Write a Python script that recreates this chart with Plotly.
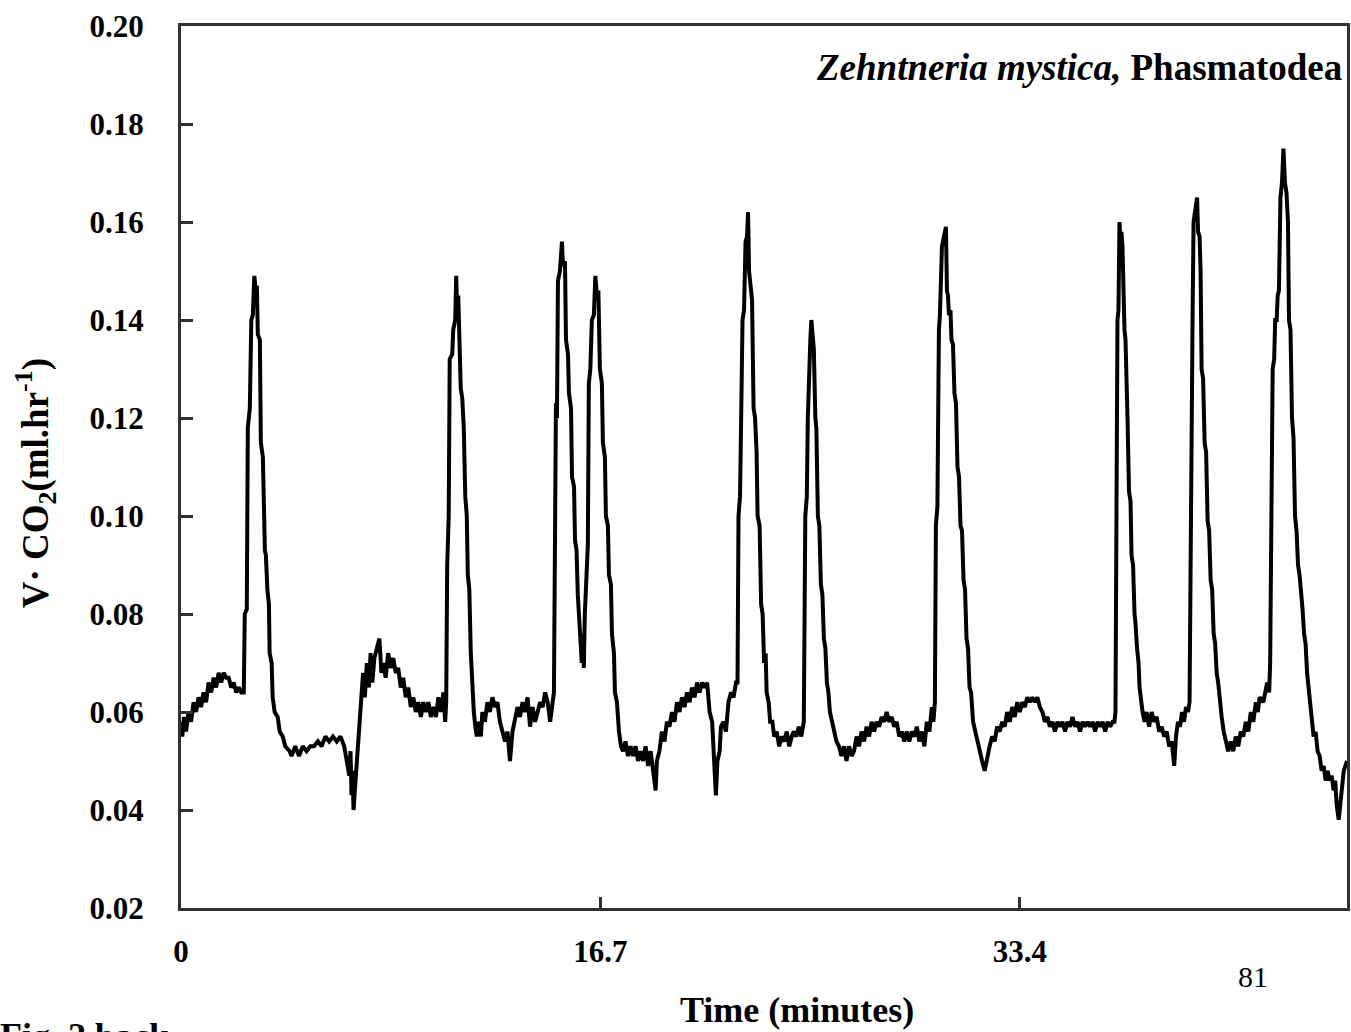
import plotly.graph_objects as go

# Time (minutes) and VCO2 (ml/hr)
time_min = [
    0, 0.05, 0.12, 0.2, 0.3, 0.4, 0.5, 0.6, 0.7, 0.8, 0.9, 1.0, 1.1, 1.2, 1.3, 1.4, 1.5, 1.6, 1.7, 1.8, 1.9, 2.0, 2.1, 2.2, 2.3, 2.4, 2.5,
    2.54, 2.62, 2.66, 2.74, 2.80, 2.86, 2.92, 2.98, 3.02, 3.06, 3.14, 3.18, 3.26, 3.34, 3.38, 3.44, 3.50, 3.53, 3.61, 3.65, 3.73, 3.85, 3.93, 4.05, 4.15, 4.33,
    4.4, 4.55, 4.7, 4.85, 5.0, 5.15, 5.3, 5.45, 5.6, 5.75, 5.9, 6.05, 6.2, 6.35, 6.5, 6.6, 6.7, 6.75, 6.79, 6.83, 6.87, 6.95, 7.03, 7.1,
    7.19, 7.25, 7.32, 7.4, 7.48, 7.55, 7.62, 7.7, 7.8, 7.9, 7.98, 8.06, 8.15, 8.25, 8.35, 8.45, 8.55, 8.65, 8.75, 8.85, 8.95, 9.05, 9.15, 9.25, 9.35, 9.45, 9.55, 9.65, 9.75, 9.85, 9.95, 10.05, 10.15, 10.25, 10.35, 10.45, 10.52,
    10.56, 10.60, 10.66, 10.70, 10.80, 10.84, 10.92, 10.96, 11.00, 11.04, 11.10, 11.14, 11.20, 11.26, 11.32, 11.38, 11.42, 11.48, 11.54, 11.60, 11.66, 11.72, 11.78, 11.86, 11.94,
    12.0, 12.1, 12.2, 12.3, 12.4, 12.5, 12.6, 12.7, 12.8, 12.9, 13.0, 13.1, 13.2, 13.3, 13.4, 13.5, 13.6, 13.7, 13.8, 13.9, 14.0, 14.1, 14.2, 14.3, 14.4, 14.5, 14.6, 14.7,
    14.85, 14.89, 14.93, 14.97, 15.01, 15.09, 15.17, 15.21, 15.29, 15.33, 15.41, 15.45, 15.53, 15.57, 15.65, 15.69, 15.75, 15.80, 15.85, 15.90, 15.96, 16.00, 16.04, 16.08, 16.14, 16.20, 16.24, 16.30, 16.36, 16.44, 16.50, 16.56, 16.62, 16.68, 16.76, 16.80, 16.88, 16.92, 17.00, 17.04, 17.12, 17.16, 17.24, 17.28, 17.36, 17.44, 17.52,
    17.6, 17.7, 17.8, 17.9, 18.0, 18.1, 18.2, 18.3, 18.4, 18.5, 18.6, 18.7, 18.8, 18.9, 18.95, 19.05, 19.15, 19.25, 19.35, 19.45, 19.55, 19.65, 19.75, 19.85, 19.95, 20.05, 20.15, 20.25, 20.35, 20.45, 20.55, 20.65, 20.75, 20.85, 20.95, 21.0, 21.05, 21.15, 21.2, 21.26, 21.30, 21.36, 21.45, 21.5, 21.6, 21.7, 21.8, 21.9, 22.0, 22.1,
    22.16, 22.20, 22.26, 22.30, 22.36, 22.42, 22.48, 22.54, 22.58, 22.62, 22.68, 22.74, 22.80, 22.86, 22.92, 22.96, 23.04, 23.10, 23.16, 23.22, 23.28, 23.32, 23.40, 23.46, 23.55, 23.62, 23.72, 23.82, 23.92, 24.02, 24.12, 24.22, 24.32, 24.40,
    24.50, 24.60, 24.70, 24.80,
    24.86, 24.92, 24.96, 25.02, 25.06, 25.10, 25.14, 25.20, 25.26, 25.30, 25.36, 25.42, 25.48, 25.54, 25.60, 25.66, 25.72, 25.78, 25.84, 25.92,
    26.00, 26.10, 26.20, 26.30, 26.40, 26.50, 26.60, 26.70, 26.80, 26.90, 27.00, 27.10, 27.20, 27.30, 27.40, 27.50, 27.60, 27.70, 27.80, 27.90, 28.00, 28.10, 28.20, 28.30, 28.40, 28.50, 28.60, 28.70, 28.80, 28.90, 29.00, 29.10, 29.20, 29.30, 29.40, 29.50, 29.60, 29.70, 29.80, 29.90, 29.96,
    30.02, 30.06, 30.12, 30.18, 30.22, 30.30, 30.38, 30.46, 30.50, 30.54, 30.58, 30.64, 30.68, 30.74, 30.80, 30.86, 30.92, 30.98, 31.04, 31.10, 31.16, 31.22, 31.28, 31.34, 31.40, 31.46, 31.54, 31.62, 31.70, 31.80, 31.90, 32.00, 32.10, 32.20, 32.30, 32.40, 32.50, 32.60, 32.70, 32.80, 32.90, 33.00, 33.10, 33.20, 33.30, 33.40, 33.50, 33.60, 33.70, 33.80, 33.90, 34.00, 34.10, 34.20, 34.30, 34.40, 34.50, 34.60, 34.70, 34.80, 34.90, 35.00, 35.10, 35.20, 35.30, 35.40, 35.50, 35.60, 35.70, 35.80, 35.90, 36.00, 36.10, 36.20, 36.30, 36.40, 36.50, 36.60, 36.70, 36.80, 36.90, 37.00, 37.10, 37.17,
    37.21, 37.25, 37.29, 37.33, 37.37, 37.41, 37.45, 37.49, 37.53, 37.57, 37.61, 37.65, 37.69, 37.75, 37.81, 37.85, 37.91, 37.97, 38.01, 38.07, 38.13, 38.17, 38.23, 38.29,
    38.37, 38.45, 38.55, 38.65, 38.75, 38.85, 38.95, 39.05, 39.15, 39.25, 39.35, 39.45, 39.55, 39.62, 39.70, 39.78, 39.86, 39.94, 40.02, 40.10, 40.16,
    40.20, 40.24, 40.28, 40.32, 40.38, 40.46, 40.50, 40.56, 40.60, 40.64, 40.70, 40.76, 40.82, 40.88, 40.94, 41.00, 41.06, 41.12, 41.18, 41.24, 41.30, 41.36, 41.44, 41.52, 41.60, 41.70, 41.80, 41.90, 42.00, 42.10, 42.20, 42.30, 42.40, 42.50, 42.60, 42.70, 42.80, 42.88, 42.95, 43.10, 43.25, 43.33,
    43.37, 43.41, 43.47, 43.53, 43.57, 43.63, 43.67, 43.72, 43.78, 43.84, 43.90, 43.96, 44.02, 44.08, 44.12, 44.18, 44.24, 44.30, 44.36, 44.42, 44.48, 44.54, 44.60, 44.66, 44.72, 44.78, 44.84, 44.90, 44.96, 45.04, 45.10, 45.18, 45.26, 45.34, 45.42, 45.50, 45.58, 45.66, 45.74, 45.82, 45.90, 45.96, 46.02, 46.10, 46.20, 46.30, 46.43,
]

vco2 = [
    0.058, 0.055, 0.059, 0.056, 0.060, 0.058, 0.062, 0.060, 0.063, 0.061, 0.064, 0.062, 0.066, 0.064, 0.067, 0.065, 0.068, 0.066, 0.068, 0.067, 0.067, 0.065, 0.066, 0.064, 0.065, 0.064, 0.064,
    0.080, 0.081, 0.118, 0.122, 0.140, 0.141, 0.149, 0.146, 0.147, 0.137, 0.136, 0.115, 0.112, 0.093, 0.092, 0.085, 0.082, 0.072, 0.070, 0.063, 0.060, 0.059, 0.056, 0.055, 0.053, 0.052,
    0.051, 0.053, 0.051, 0.053, 0.052, 0.053, 0.053, 0.054, 0.053, 0.055, 0.054, 0.055, 0.054, 0.055, 0.053, 0.050, 0.047, 0.052, 0.043, 0.048, 0.040, 0.046, 0.052, 0.058,
    0.062, 0.068, 0.063, 0.070, 0.065, 0.072, 0.066, 0.071, 0.073, 0.075, 0.068, 0.070, 0.067, 0.072, 0.069, 0.071, 0.068, 0.069, 0.065, 0.067, 0.063, 0.065, 0.061, 0.063, 0.060, 0.062, 0.059, 0.062, 0.060, 0.062, 0.059, 0.061, 0.059, 0.063, 0.060, 0.064, 0.058,
    0.062, 0.090, 0.100, 0.132, 0.133, 0.138, 0.140, 0.149, 0.141, 0.145, 0.136, 0.126, 0.124, 0.118, 0.104, 0.100, 0.088, 0.085, 0.072, 0.065, 0.060, 0.057, 0.055, 0.058, 0.055,
    0.060, 0.058, 0.062, 0.060, 0.063, 0.061, 0.062, 0.058, 0.056, 0.054, 0.056, 0.050, 0.056, 0.059, 0.061, 0.059, 0.062, 0.060, 0.063, 0.057, 0.061, 0.058, 0.060, 0.062, 0.061, 0.064, 0.062, 0.058,
    0.064, 0.090, 0.123, 0.120, 0.148, 0.150, 0.156, 0.151, 0.152, 0.136, 0.133, 0.125, 0.122, 0.108, 0.106, 0.095, 0.093, 0.084, 0.080, 0.073, 0.070, 0.076, 0.069, 0.080, 0.090, 0.094, 0.127, 0.130, 0.140, 0.141, 0.149, 0.145, 0.146, 0.130, 0.127, 0.115, 0.112, 0.100, 0.098, 0.088, 0.086, 0.076, 0.072, 0.064, 0.062, 0.056, 0.053,
    0.052, 0.054, 0.051, 0.053, 0.051, 0.053, 0.050, 0.052, 0.050, 0.053, 0.049, 0.052, 0.048, 0.044, 0.050, 0.052, 0.056, 0.054, 0.058, 0.057, 0.060, 0.058, 0.062, 0.060, 0.063, 0.061, 0.064, 0.062, 0.065, 0.063, 0.066, 0.064, 0.066, 0.065, 0.066, 0.063, 0.060, 0.058, 0.052, 0.048, 0.043, 0.050, 0.052, 0.057, 0.058, 0.056, 0.062, 0.064, 0.063, 0.066,
    0.066, 0.100, 0.104, 0.118, 0.140, 0.142, 0.156, 0.157, 0.162, 0.150, 0.146, 0.144, 0.122, 0.120, 0.113, 0.100, 0.098, 0.082, 0.080, 0.070, 0.072, 0.064, 0.062, 0.058, 0.058, 0.055, 0.056, 0.053, 0.055, 0.054, 0.056, 0.053, 0.055, 0.056,
    0.055, 0.057, 0.055, 0.058,
    0.100, 0.104, 0.120, 0.132, 0.136, 0.140, 0.137, 0.134, 0.120, 0.118, 0.100, 0.098, 0.086, 0.084, 0.075, 0.073, 0.066, 0.064, 0.060, 0.058,
    0.057, 0.054, 0.053, 0.051, 0.053, 0.050, 0.053, 0.051, 0.052, 0.055, 0.053, 0.056, 0.054, 0.057, 0.055, 0.058, 0.056, 0.058, 0.057, 0.059, 0.058, 0.060, 0.058, 0.059, 0.057, 0.058, 0.055, 0.056, 0.054, 0.056, 0.054, 0.056, 0.055, 0.057, 0.054, 0.056, 0.053, 0.058, 0.056, 0.061, 0.058,
    0.062, 0.098, 0.102, 0.138, 0.141, 0.155, 0.157, 0.159, 0.146, 0.145, 0.141, 0.142, 0.136, 0.135, 0.125, 0.123, 0.110, 0.108, 0.098, 0.097, 0.087, 0.085, 0.075, 0.073, 0.065, 0.064, 0.058, 0.056, 0.055, 0.052, 0.050, 0.048, 0.051, 0.053, 0.055, 0.054, 0.057, 0.056, 0.058, 0.057, 0.060, 0.058, 0.061, 0.059, 0.062, 0.060, 0.062, 0.061, 0.063, 0.062, 0.063, 0.062, 0.063, 0.061, 0.060, 0.058, 0.059, 0.057, 0.058, 0.056, 0.058, 0.057, 0.058, 0.056, 0.058, 0.057, 0.059, 0.057, 0.058, 0.056, 0.058, 0.057, 0.058, 0.057, 0.058, 0.056, 0.058, 0.057, 0.058, 0.056, 0.058, 0.057, 0.058, 0.058,
    0.060, 0.120, 0.140, 0.142, 0.160, 0.156, 0.158, 0.155, 0.140, 0.138, 0.136, 0.122, 0.120, 0.105, 0.103, 0.092, 0.090, 0.080, 0.078, 0.073, 0.070, 0.065, 0.062, 0.060,
    0.058, 0.060, 0.057, 0.060, 0.058, 0.059, 0.056, 0.057, 0.055, 0.056, 0.053, 0.054, 0.049, 0.055, 0.058, 0.057, 0.060, 0.058, 0.061, 0.060, 0.062,
    0.100, 0.106, 0.140, 0.160, 0.162, 0.165, 0.158, 0.157, 0.150, 0.130, 0.128, 0.115, 0.113, 0.099, 0.097, 0.087, 0.085, 0.076, 0.074, 0.068, 0.066, 0.062, 0.059, 0.056, 0.054, 0.052, 0.054, 0.052, 0.055, 0.053, 0.056, 0.055, 0.058, 0.056, 0.060, 0.058, 0.062, 0.060, 0.063, 0.062, 0.066, 0.064,
    0.070, 0.100, 0.130, 0.132, 0.140, 0.140, 0.145, 0.146, 0.165, 0.168, 0.175, 0.168, 0.166, 0.160, 0.140, 0.138, 0.120, 0.116, 0.100, 0.097, 0.090, 0.088, 0.085, 0.081, 0.076, 0.074, 0.068, 0.065, 0.061, 0.058, 0.055, 0.056, 0.052, 0.051, 0.048, 0.049, 0.046, 0.048, 0.046, 0.047, 0.044, 0.046, 0.041, 0.038, 0.043, 0.048, 0.050,
]

x_tick_vals = [0, 16.7, 33.4]
x_tick_text = ["0", "16.7", "33.4"]
y_tick_vals = [0.02, 0.04, 0.06, 0.08, 0.10, 0.12, 0.14, 0.16, 0.18, 0.20]

SERIF = "Liberation Serif"
AXIS_COLOR = "#303030"

fig = go.Figure()
fig.add_trace(go.Scatter(
    x=time_min, y=vco2, mode="lines",
    line=dict(color="black", width=4),
    showlegend=False, hoverinfo="skip",
))

fig.update_layout(
    width=1351, height=1032,
    margin=dict(l=181, r=1, t=26, b=124),
    paper_bgcolor="white", plot_bgcolor="white",
    xaxis=dict(
        range=[0, 46.43], tickvals=x_tick_vals, ticktext=x_tick_text,
        ticks="inside", ticklen=11, tickwidth=3, tickcolor=AXIS_COLOR,
        showline=True, linewidth=3, linecolor=AXIS_COLOR, mirror=True,
        showgrid=False, zeroline=False,
        tickfont=dict(family=SERIF, size=31, color="black", weight="bold"),
        ticklabelstandoff=14,
    ),
    yaxis=dict(
        range=[0.02, 0.20], tickvals=y_tick_vals, tickformat=".2f",
        ticks="inside", ticklen=12, tickwidth=3, tickcolor=AXIS_COLOR,
        showline=True, linewidth=3, linecolor=AXIS_COLOR, mirror=True,
        showgrid=False, zeroline=False,
        tickfont=dict(family=SERIF, size=31, color="black", weight="bold"),
        ticklabelstandoff=28,
    ),
    annotations=[
        dict(text="<b><i>Zehntneria mystica,</i> Phasmatodea</b>",
             xref="paper", yref="paper", x=0.9975, y=0.9524,
             xanchor="right", yanchor="middle", showarrow=False,
             font=dict(family=SERIF, size=37, color="black")),
        dict(text="<b>Time (minutes)</b>",
             xref="paper", yref="paper", x=0.5287, y=-0.1156,
             xanchor="center", yanchor="middle", showarrow=False,
             font=dict(family=SERIF, size=36, color="black")),
        dict(text="<b>V· CO<sub>2</sub>(ml.hr<sup>-1</sup>)</b>",
             xref="paper", yref="paper", x=-0.1249, y=0.4819,
             xanchor="center", yanchor="middle", textangle=-90, showarrow=False,
             font=dict(family=SERIF, size=37, color="black")),
        dict(text="81",
             xref="paper", yref="paper", x=0.9196, y=-0.0782,
             xanchor="center", yanchor="middle", showarrow=False,
             font=dict(family=SERIF, size=30, color="black")),
        dict(text="<b>Fig. 2 back</b>",
             xref="paper", yref="paper", x=-0.157, y=-0.1202,
             xanchor="left", yanchor="top", showarrow=False,
             font=dict(family=SERIF, size=36, color="black")),
    ],
)

fig.write_html("out.html")
